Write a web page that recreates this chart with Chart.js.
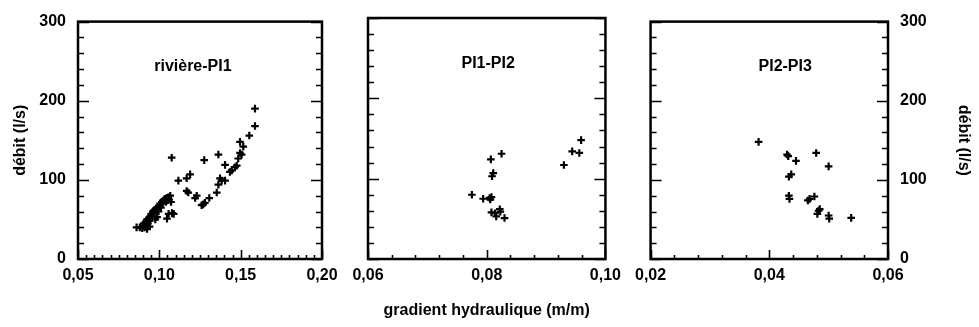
<!DOCTYPE html>
<html>
<head>
<meta charset="utf-8">
<script src="https://cdn.jsdelivr.net/npm/chart.js@4/dist/chart.umd.min.js"></script>
<style>
  html, body { margin: 0; padding: 0; background: #fff; }
  body { width: 979px; height: 327px; position: relative; overflow: hidden; }
  canvas { position: absolute; top: 0; }
</style>
</head>
<body>
<canvas id="c1" width="345" height="327" style="left:0px"></canvas>
<canvas id="c2" width="283" height="327" style="left:345px"></canvas>
<canvas id="c3" width="351" height="327" style="left:628px"></canvas>
<script>
// ---------- DATA ----------
const panelTitles = ["rivière-PI1", "PI1-PI2", "PI2-PI3"];
const yAxisTitle = "débit (l/s)";
const xAxisTitle = "gradient hydraulique (m/m)";

const yLabelValues = [0, 100, 200, 300];
const yMinorStep = 20;

const x1LabelValues = [0.05, 0.10, 0.15, 0.20];
const x1MinorStep = 0.005;
const x2LabelValues = [0.06, 0.08, 0.10];
const x2MinorStep = 0.004;
const x3LabelValues = [0.02, 0.04, 0.06];
const x3MinorStep = 0.004;

// rivière-PI1
const p1X = [0.0860, 0.0880, 0.0895, 0.0900, 0.0905, 0.0910, 0.0915, 0.0920, 0.0925, 0.0930,
             0.0935, 0.0940, 0.0945, 0.0950, 0.0955, 0.0960, 0.0965, 0.0970, 0.0975, 0.0980,
             0.0985, 0.0990, 0.0995, 0.1000, 0.1005, 0.1010, 0.1015, 0.1020, 0.1025, 0.1030,
             0.1035, 0.1040, 0.1045, 0.1050, 0.1055, 0.1060, 0.1067, 0.0986, 0.1047, 0.1057,
             0.1078, 0.1088, 0.1072, 0.0975, 0.0940, 0.0925,
             0.1076, 0.1117, 0.1168, 0.1189, 0.1168, 0.1178, 0.1230, 0.1220, 0.1260, 0.1270,
             0.1280, 0.1307, 0.1276, 0.1363, 0.1353, 0.1363, 0.1373, 0.1383, 0.1404, 0.1404,
             0.1434, 0.1445, 0.1465, 0.1476, 0.1485, 0.1496, 0.1506, 0.1496, 0.1516, 0.1553,
             0.1588, 0.1588];
const p1Y = [40, 40, 39, 42, 45, 40, 47, 43, 50, 45,
             52, 48, 54, 57, 55, 60, 58, 62, 61, 64,
             63, 66, 60, 67, 70, 65, 72, 70, 74, 75,
             76, 72, 77, 74, 78, 75, 80, 53, 51, 57,
             58, 57, 72, 50, 41, 38,
             128, 99, 102, 107, 86, 84, 80, 77, 68, 69,
             71, 77, 125, 132, 84, 94, 102, 99, 119, 99,
             110, 112, 116, 118, 127, 134, 132, 148, 142, 156,
             168, 190];

// PI1-PI2
const p2X = [0.0775, 0.0794, 0.0805, 0.0806, 0.0808, 0.0807, 0.0811, 0.0809, 0.0825, 0.0808,
             0.0814, 0.0816, 0.0822, 0.0823, 0.0830, 0.0930, 0.0944, 0.0956, 0.0959];
const p2Y = [80, 75, 76, 74, 77, 124, 107, 103, 131, 58,
             57, 53, 62, 59, 51, 117, 134, 132, 148];

// PI2-PI3
const p3X = [0.0382, 0.0430, 0.0432, 0.0445, 0.0433, 0.0437, 0.0433, 0.0434, 0.0479, 0.0500,
             0.0465, 0.0468, 0.0476, 0.0483, 0.0485, 0.0481, 0.0500, 0.0501, 0.0538];
const p3Y = [148, 132, 130, 124, 104, 107, 80, 76, 134, 117,
             74, 76, 79, 61, 63, 57, 55, 51, 52];

// ---------- HELPERS ----------
const FONT = "'Liberation Sans', Arial, Helvetica, sans-serif";
Chart.defaults.font.family = FONT;
Chart.defaults.font.size = 16;
Chart.defaults.font.weight = 'bold';
Chart.defaults.color = '#000';

function stepValues(min, max, step) {
  const n = Math.round((max - min) / step);
  return Array.from({length: n + 1}, (_, i) => +(min + i * step).toFixed(6));
}
function isIn(v, arr) { return arr.some(a => Math.abs(a - v) < 1e-9); }
function fmt(v, d) { return v.toFixed(d).replace('.', ','); }

const yTickValues = stepValues(yLabelValues[0], yLabelValues[yLabelValues.length - 1], yMinorStep);

const framePlugin = {
  id: 'frame',
  afterDraw(chart, args, opts) {
    const {ctx, chartArea: a} = chart;
    const x = chart.scales.x, y = chart.scales.y;
    ctx.save();
    ctx.strokeStyle = '#000';
    ctx.lineWidth = 1.6;
    ctx.beginPath();
    for (const t of x.ticks) {
      const px = Math.round(x.getPixelForValue(t.value)) + 0.5;
      const len = t.major ? 9 : 4;
      ctx.moveTo(px, a.bottom);
      ctx.lineTo(px, a.bottom - len);
    }
    for (const v of yTickValues) {
      const py = Math.round(y.getPixelForValue(v)) + 0.5;
      const len = isIn(v, yLabelValues) ? 11 : 6;
      ctx.moveTo(a.left, py); ctx.lineTo(a.left + len, py);
      ctx.moveTo(a.right, py); ctx.lineTo(a.right - len, py);
    }
    ctx.stroke();
    ctx.lineWidth = 2.5;
    ctx.strokeRect(a.left, a.top, a.right - a.left, a.bottom - a.top);
    ctx.fillStyle = '#000';
    ctx.font = "bold 16px " + FONT;
    ctx.textAlign = 'center';
    ctx.textBaseline = 'middle';
    ctx.fillText(opts.text, a.left + opts.fx * (a.right - a.left), a.top + opts.fy * (a.bottom - a.top));
    ctx.restore();
  }
};

function makeChart(id, xs, ys, xLabels, xStep, cfg) {
  const xMin = xLabels[0], xMax = xLabels[xLabels.length - 1];
  const xTicks = stepValues(xMin, xMax, xStep);
  const pts = xs.map((v, i) => ({x: v, y: ys[i]}));
  return new Chart(document.getElementById(id), {
    type: 'scatter',
    data: {
      datasets: [{
        data: pts,
        pointStyle: 'cross',
        pointRadius: 3.8,
        borderWidth: 2.2,
        borderColor: '#000',
        backgroundColor: '#000'
      }]
    },
    plugins: [framePlugin],
    options: {
      responsive: false,
      animation: false,
      devicePixelRatio: 1,
      layout: {padding: cfg.padding},
      plugins: {
        legend: {display: false},
        tooltip: {enabled: false},
        frame: {text: cfg.title, fx: cfg.fx, fy: cfg.fy}
      },
      scales: {
        x: {
          type: 'linear',
          min: xMin, max: xMax,
          grid: {display: false, drawTicks: false},
          border: {display: false},
          afterBuildTicks: s => { s.ticks = xTicks.map(v => ({value: v, major: isIn(v, xLabels)})); },
          afterFit: s => { s.height = 68; },
          ticks: {
            autoSkip: false, maxRotation: 0, padding: 7,
            callback: (v, i, t) => (t[i] && t[i].major) ? fmt(v, 2) : ''
          },
          title: cfg.xTitle ? {display: true, text: xAxisTitle, padding: {top: 0, bottom: 7}} : {display: false}
        },
        y: {
          type: 'linear',
          position: cfg.yPos,
          display: cfg.yShow,
          min: yLabelValues[0], max: yLabelValues[yLabelValues.length - 1],
          grid: {display: false, drawTicks: false},
          border: {display: false},
          afterBuildTicks: s => { s.ticks = yTickValues.map(v => ({value: v, major: isIn(v, yLabelValues)})); },
          afterFit: s => { s.width = cfg.yWidth; },
          ticks: {
            autoSkip: false, padding: 12,
            callback: (v, i, t) => (t[i] && t[i].major) ? String(v) : ''
          },
          title: {display: true, text: yAxisTitle, padding: {top: cfg.yTitlePad, bottom: 0}}
        }
      }
    }
  });
}

makeChart('c1', p1X, p1Y, x1LabelValues, x1MinorStep, {
  title: panelTitles[0], fx: 0.471, fy: 0.19,
  padding: {top: 18, right: 23, left: 0, bottom: 0},
  yPos: 'left', yShow: true, yWidth: 78, yTitlePad: 11, xTitle: false
});
makeChart('c2', p2X, p2Y, x2LabelValues, x2MinorStep, {
  title: panelTitles[1], fx: 0.506, fy: 0.19,
  padding: {top: 18, right: 19, left: 23, bottom: 0},
  yPos: 'left', yShow: false, yWidth: 0, yTitlePad: 0, xTitle: true
});
makeChart('c3', p3X, p3Y, x3LabelValues, x3MinorStep, {
  title: panelTitles[2], fx: 0.567, fy: 0.19,
  padding: {top: 18, right: 0, left: 20, bottom: 0},
  yPos: 'right', yShow: true, yWidth: 91, yTitlePad: 6, xTitle: false
});
</script>
</body>
</html>
